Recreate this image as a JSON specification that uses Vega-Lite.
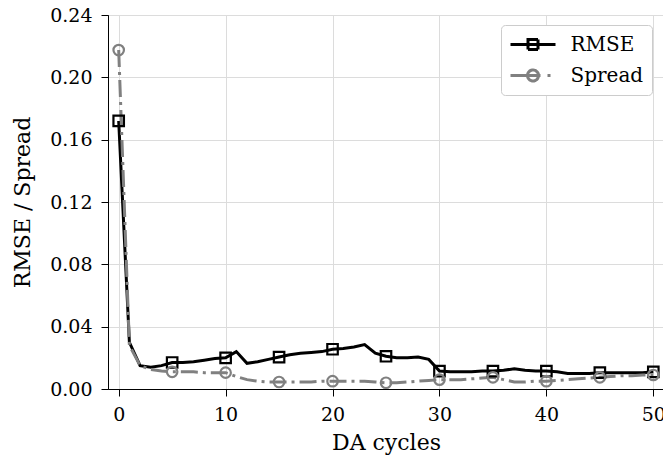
{
  "$schema": "https://vega.github.io/schema/vega-lite/v6.json",
  "autosize": {"type": "none"},
  "padding": {"left": 108, "top": 15, "right": 0, "bottom": 70},
  "width": 556,
  "height": 374,
  "config": {
    "font": "DejaVu Serif",
    "view": {"stroke": "black", "strokeWidth": 1},
    "axis": {
      "labelFont": "DejaVu Serif", "titleFont": "DejaVu Serif",
      "labelFontSize": 19, "titleFontSize": 22,
      "labelColor": "black", "titleColor": "black",
      "titleFontWeight": "normal",
      "domainColor": "black", "tickColor": "black",
      "tickSize": 7, "labelPadding": 9,
      "gridColor": "#dcdcdc", "gridWidth": 1
    }
  },
  "data": {"values": [
    {"cycle":0,"series":"RMSE","value":0.172},{"cycle":1,"series":"RMSE","value":0.030},{"cycle":2,"series":"RMSE","value":0.015},{"cycle":3,"series":"RMSE","value":0.014},{"cycle":4,"series":"RMSE","value":0.015},
    {"cycle":5,"series":"RMSE","value":0.017},{"cycle":6,"series":"RMSE","value":0.017},{"cycle":7,"series":"RMSE","value":0.0175},{"cycle":8,"series":"RMSE","value":0.0185},{"cycle":9,"series":"RMSE","value":0.0195},
    {"cycle":10,"series":"RMSE","value":0.020},{"cycle":11,"series":"RMSE","value":0.024},{"cycle":12,"series":"RMSE","value":0.0165},{"cycle":13,"series":"RMSE","value":0.0175},{"cycle":14,"series":"RMSE","value":0.019},
    {"cycle":15,"series":"RMSE","value":0.0205},{"cycle":16,"series":"RMSE","value":0.022},{"cycle":17,"series":"RMSE","value":0.023},{"cycle":18,"series":"RMSE","value":0.0235},{"cycle":19,"series":"RMSE","value":0.024},
    {"cycle":20,"series":"RMSE","value":0.0255},{"cycle":21,"series":"RMSE","value":0.026},{"cycle":22,"series":"RMSE","value":0.027},{"cycle":23,"series":"RMSE","value":0.0285},{"cycle":24,"series":"RMSE","value":0.023},
    {"cycle":25,"series":"RMSE","value":0.021},{"cycle":26,"series":"RMSE","value":0.020},{"cycle":27,"series":"RMSE","value":0.020},{"cycle":28,"series":"RMSE","value":0.0205},{"cycle":29,"series":"RMSE","value":0.019},
    {"cycle":30,"series":"RMSE","value":0.0115},{"cycle":31,"series":"RMSE","value":0.011},{"cycle":32,"series":"RMSE","value":0.011},{"cycle":33,"series":"RMSE","value":0.011},{"cycle":34,"series":"RMSE","value":0.0115},
    {"cycle":35,"series":"RMSE","value":0.0115},{"cycle":36,"series":"RMSE","value":0.012},{"cycle":37,"series":"RMSE","value":0.013},{"cycle":38,"series":"RMSE","value":0.012},{"cycle":39,"series":"RMSE","value":0.0115},
    {"cycle":40,"series":"RMSE","value":0.0115},{"cycle":41,"series":"RMSE","value":0.011},{"cycle":42,"series":"RMSE","value":0.010},{"cycle":43,"series":"RMSE","value":0.010},{"cycle":44,"series":"RMSE","value":0.010},
    {"cycle":45,"series":"RMSE","value":0.0105},{"cycle":46,"series":"RMSE","value":0.0105},{"cycle":47,"series":"RMSE","value":0.0105},{"cycle":48,"series":"RMSE","value":0.0105},{"cycle":49,"series":"RMSE","value":0.0105},
    {"cycle":50,"series":"RMSE","value":0.011},
    {"cycle":0,"series":"Spread","value":0.2175},{"cycle":1,"series":"Spread","value":0.028},{"cycle":2,"series":"Spread","value":0.015},{"cycle":3,"series":"Spread","value":0.0125},{"cycle":4,"series":"Spread","value":0.0115},
    {"cycle":5,"series":"Spread","value":0.011},{"cycle":6,"series":"Spread","value":0.011},{"cycle":7,"series":"Spread","value":0.011},{"cycle":8,"series":"Spread","value":0.0105},{"cycle":9,"series":"Spread","value":0.0105},
    {"cycle":10,"series":"Spread","value":0.0105},{"cycle":11,"series":"Spread","value":0.008},{"cycle":12,"series":"Spread","value":0.006},{"cycle":13,"series":"Spread","value":0.005},{"cycle":14,"series":"Spread","value":0.0045},
    {"cycle":15,"series":"Spread","value":0.0045},{"cycle":16,"series":"Spread","value":0.0045},{"cycle":17,"series":"Spread","value":0.0045},{"cycle":18,"series":"Spread","value":0.0045},{"cycle":19,"series":"Spread","value":0.005},
    {"cycle":20,"series":"Spread","value":0.005},{"cycle":21,"series":"Spread","value":0.005},{"cycle":22,"series":"Spread","value":0.005},{"cycle":23,"series":"Spread","value":0.005},{"cycle":24,"series":"Spread","value":0.0045},
    {"cycle":25,"series":"Spread","value":0.004},{"cycle":26,"series":"Spread","value":0.004},{"cycle":27,"series":"Spread","value":0.0045},{"cycle":28,"series":"Spread","value":0.005},{"cycle":29,"series":"Spread","value":0.0055},
    {"cycle":30,"series":"Spread","value":0.006},{"cycle":31,"series":"Spread","value":0.006},{"cycle":32,"series":"Spread","value":0.006},{"cycle":33,"series":"Spread","value":0.0065},{"cycle":34,"series":"Spread","value":0.007},
    {"cycle":35,"series":"Spread","value":0.0075},{"cycle":36,"series":"Spread","value":0.006},{"cycle":37,"series":"Spread","value":0.0045},{"cycle":38,"series":"Spread","value":0.0045},{"cycle":39,"series":"Spread","value":0.005},
    {"cycle":40,"series":"Spread","value":0.005},{"cycle":41,"series":"Spread","value":0.0055},{"cycle":42,"series":"Spread","value":0.006},{"cycle":43,"series":"Spread","value":0.0065},{"cycle":44,"series":"Spread","value":0.007},
    {"cycle":45,"series":"Spread","value":0.0075},{"cycle":46,"series":"Spread","value":0.008},{"cycle":47,"series":"Spread","value":0.0085},{"cycle":48,"series":"Spread","value":0.0085},{"cycle":49,"series":"Spread","value":0.009},
    {"cycle":50,"series":"Spread","value":0.009}
  ]},
  "encoding": {
    "x": {"field": "cycle", "type": "quantitative", "title": "DA cycles",
      "scale": {"domain": [-1, 51], "nice": false, "zero": false},
      "axis": {"values": [0, 10, 20, 30, 40, 50], "format": "d", "titlePadding": 8}},
    "y": {"field": "value", "type": "quantitative", "title": "RMSE / Spread",
      "scale": {"domain": [0, 0.24], "nice": false},
      "axis": {"values": [0, 0.04, 0.08, 0.12, 0.16, 0.2, 0.24], "format": ".2f", "titlePadding": 15}},
    "color": {"field": "series", "type": "nominal",
      "scale": {"domain": ["RMSE", "Spread"], "range": ["black", "#808080"]},
      "legend": {
        "title": null, "orient": "none", "legendX": 393, "legendY": 10,
        "symbolSize": 400, "symbolStrokeWidth": 3, "symbolType": "stroke", "symbolOffset": 12.5,
        "labelFontSize": 20, "labelFont": "DejaVu Serif", "labelColor": "black", "labelOffset": 26,
        "padding": 8, "rowPadding": 8, "fillColor": "white", "strokeColor": "#cccccc", "cornerRadius": 4,
        "encode": {"symbols": {"update": {
          "shape": [
            {"test": "datum.value === 'RMSE'", "value": "M-2.25,0H2.25M-0.5,-0.5H0.5V0.5H-0.5Z"},
            {"value": "M-2.25,0H0.75M1.45,0H1.75M0.55,0A0.55,0.55 0 1,1 -0.55,0A0.55,0.55 0 1,1 0.55,0"}
          ],
          "fill": {"value": "transparent"},
          "strokeDash": {"value": [1, 0]}
        }}}
      }}
  },
  "layer": [
    {
      "transform": [{"filter": "datum.series === 'RMSE'"}],
      "mark": {"type": "line", "strokeWidth": 3, "strokeCap": "butt"}
    },
    {
      "transform": [{"filter": "datum.series === 'Spread'"}],
      "mark": {"type": "line", "strokeWidth": 3, "strokeCap": "butt", "strokeDash": [17, 5, 3, 5]}
    },
    {
      "transform": [{"filter": "datum.series === 'RMSE' && datum.cycle % 5 == 0"}],
      "mark": {"type": "point", "shape": "square", "filled": false, "strokeWidth": 2.2, "size": 110, "opacity": 1}
    },
    {
      "transform": [{"filter": "datum.series === 'Spread' && datum.cycle % 5 == 0"}],
      "mark": {"type": "point", "shape": "circle", "filled": false, "strokeWidth": 2.2, "size": 110, "opacity": 1}
    }
  ]
}
